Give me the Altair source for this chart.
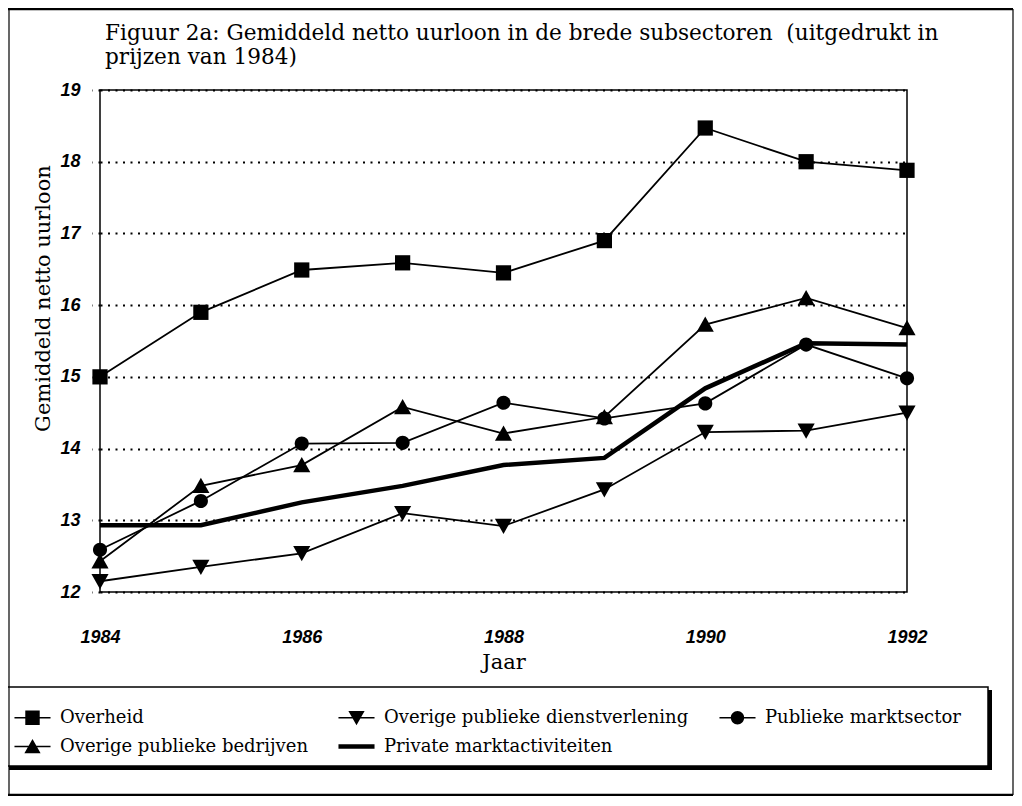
import altair as alt
import pandas as pd

# ---- data ----
years = [1984, 1985, 1986, 1987, 1988, 1989, 1990, 1991, 1992]
overheid = [15.00, 15.90, 16.49, 16.59, 16.45, 16.90, 18.47, 18.00, 17.88]
dienstverlening = [12.15, 12.35, 12.54, 13.10, 12.92, 13.43, 14.23, 14.25, 14.50]
marktsector = [12.59, 13.27, 14.07, 14.08, 14.64, 14.42, 14.63, 15.45, 14.98]
bedrijven = [12.43, 13.48, 13.77, 14.58, 14.21, 14.44, 15.73, 16.10, 15.68]
private = [12.93, 12.93, 13.25, 13.48, 13.77, 13.87, 14.84, 15.47, 15.45]

series_names = [
    "Overheid",
    "Overige publieke dienstverlening",
    "Publieke marktsector",
    "Overige publieke bedrijven",
    "Private marktactiviteiten",
]
series_values = [overheid, dienstverlening, marktsector, bedrijven, private]
x_tick_values = [1984, 1986, 1988, 1990, 1992]
y_tick_values = [12, 13, 14, 15, 16, 17, 18, 19]

title_line1 = "Figuur 2a: Gemiddeld netto uurloon in de brede subsectoren\u00a0 (uitgedrukt in"
title_line2 = "prijzen van 1984)"

rows = []
for name, vals in zip(series_names, series_values):
    for yr, v in zip(years, vals):
        rows.append({"jaar": yr, "waarde": v, "reeks": name})
df = pd.DataFrame(rows)

PRIVATE = "Private marktactiviteiten"

# plot markers (unit box -1..1)
marker_paths = [
    "M-0.4,-0.4H0.4V0.4H-0.4Z",
    "M-0.45,-0.38H0.45L0,0.42Z",
    "M0.37,0A0.37,0.37 0 1,1 -0.37,0A0.37,0.37 0 1,1 0.37,0Z",
    "M0,-0.42L0.45,0.38H-0.45Z",
    "M-1,-0.07H1V0.07H-1Z",
]
# legend symbols: marker with a short line through it (line drawn as thin filled bar)
LINE = "M-1,-0.045H1V0.045H-1Z"
legend_paths = [
    LINE + "M-0.4,-0.4H0.4V0.4H-0.4Z",
    LINE + "M-0.45,-0.38H0.45L0,0.42Z",
    LINE + "M0.37,0A0.37,0.37 0 1,1 -0.37,0A0.37,0.37 0 1,1 0.37,0Z",
    LINE + "M0,-0.42L0.45,0.38H-0.45Z",
    "M-1,-0.12H1V0.12H-1Z",
]

SERIF = "DejaVu Serif"
SANS = "Liberation Sans"

x_enc = alt.X(
    "jaar:Q",
    scale=alt.Scale(domain=[1984, 1992], nice=False, zero=False),
    axis=alt.Axis(
        values=x_tick_values, format="d", title="Jaar",
        grid=False, ticks=False, domain=False, labelFlush=False,
        labelFont=SANS, labelFontSize=18, labelFontWeight="bold",
        labelFontStyle="italic", labelColor="black", labelPadding=36,
        labelBaseline="top",
        titleFont=SERIF, titleFontSize=21, titleFontWeight="normal",
        titleColor="black", titleY=70, titleBaseline="middle",
    ),
)
y_enc = alt.Y(
    "waarde:Q",
    scale=alt.Scale(domain=[12, 19], nice=False, zero=False),
    axis=alt.Axis(
        values=y_tick_values, format="d", title="Gemiddeld netto uurloon",
        grid=True, gridColor="black", gridDash=[2, 5.5], gridWidth=1.8,
        ticks=True, tickSize=8, tickColor="black", tickDash=[2, 5.5],
        tickWidth=1.8, domain=False, labelFlush=False,
        labelFont=SANS, labelFontSize=18, labelFontWeight="bold",
        labelFontStyle="italic", labelColor="black", labelPadding=12,
        titleFont=SERIF, titleFontSize=21, titleFontWeight="normal",
        titleColor="black", titleAngle=270, titleX=-57, titleY=208,
        titleAlign="center", titleBaseline="middle",
    ),
)

base = alt.Chart(df)

thin_lines = base.transform_filter(alt.datum.reeks != PRIVATE).mark_line(
    color="black", strokeWidth=1.8
).encode(x=x_enc, y=y_enc, detail="reeks:N")

thick_line = base.transform_filter(alt.datum.reeks == PRIVATE).mark_line(
    color="black", strokeWidth=4.5
).encode(x=x_enc, y=y_enc)

points = base.transform_filter(alt.datum.reeks != PRIVATE).mark_point(
    filled=True, color="black", size=1450, opacity=1
).encode(
    x=x_enc,
    y=y_enc,
    shape=alt.Shape(
        "reeks:N",
        scale=alt.Scale(domain=series_names, range=marker_paths),
        legend=None,
    ),
)

# legend-only layer: one symbol per series, placed outside the y domain and clipped away
legend_layer = base.transform_filter(alt.datum.jaar == 1984).transform_calculate(
    waarde="0"
).mark_point(
    filled=True, fill="black", size=1300, opacity=1, clip=True,
).encode(
    x=x_enc,
    y=y_enc,
    shape=alt.Shape(
        "reeks:N",
        scale=alt.Scale(domain=series_names, range=legend_paths),
        legend=alt.Legend(
            title=None, orient="none", legendX=-86, legendY=609,
            columns=3, direction="horizontal", symbolSize=1300,
            symbolFillColor="black", symbolStrokeWidth=0, symbolOpacity=1,
            labelFont=SERIF, labelFontSize=18, labelColor="black",
            labelOffset=9, columnPadding=30, rowPadding=1, labelLimit=0,
            padding=0,
        ),
    ),
)

deco = pd.DataFrame({"k": [0]})
title1 = alt.Chart(deco).mark_text(
    text=title_line1, font=SERIF, fontSize=21.6, color="black",
    align="left", baseline="alphabetic",
).encode(x=alt.value(5), y=alt.value(-50))
title2 = alt.Chart(deco).mark_text(
    text=title_line2, font=SERIF, fontSize=21.6, color="black",
    align="left", baseline="alphabetic",
).encode(x=alt.value(5), y=alt.value(-26))

legend_box = alt.Chart(deco).mark_rect(
    fill="white", stroke="black", strokeWidth=1.5
).encode(x=alt.value(-94), x2=alt.value(888), y=alt.value(597), y2=alt.value(676))
shadow_b = alt.Chart(deco).mark_rule(color="black", strokeWidth=4).encode(
    x=alt.value(-91), x2=alt.value(890), y=alt.value(678))
shadow_r = alt.Chart(deco).mark_rule(color="black", strokeWidth=4).encode(
    x=alt.value(890), y=alt.value(600), y2=alt.value(680))
border_t = alt.Chart(deco).mark_rule(color="black", strokeWidth=2.5).encode(
    x=alt.value(-92), x2=alt.value(913), y=alt.value(-81))
border_l = alt.Chart(deco).mark_rule(color="black", strokeWidth=1.2).encode(
    x=alt.value(-91), y=alt.value(-81), y2=alt.value(705))
border_r = alt.Chart(deco).mark_rule(color="black", strokeWidth=1.2).encode(
    x=alt.value(913), y=alt.value(-81), y2=alt.value(705))
border_b = alt.Chart(deco).mark_rule(color="black", strokeWidth=2.5).encode(
    x=alt.value(-92), x2=alt.value(913), y=alt.value(705))

chart = alt.layer(
    legend_box, shadow_b, shadow_r, border_t, border_l, border_r, border_b,
    title1, title2,
    thin_lines, thick_line, points, legend_layer,
).resolve_scale(
    shape="independent"
).properties(
    width=807,
    height=502,
    autosize=alt.AutoSizeParams(type="none"),
    padding={"left": 92, "top": 82, "right": 107, "bottom": 204},
    background="white",
).configure_view(stroke="black", strokeWidth=1.5)

chart.save("out.html", embed_options={"renderer": "svg", "actions": False})
